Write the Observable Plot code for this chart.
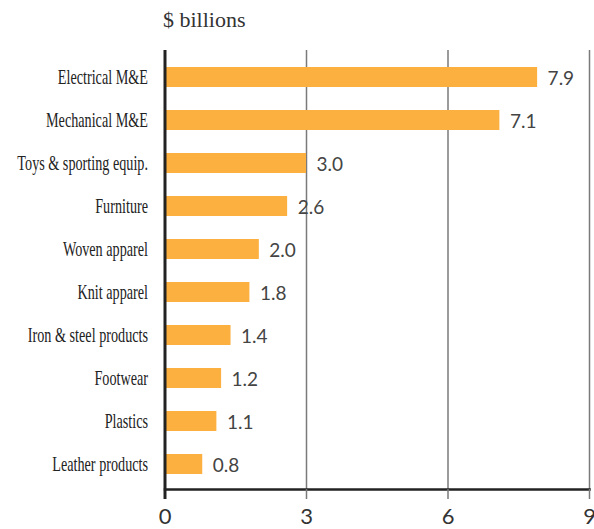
<!DOCTYPE html>
<html>
<head>
<meta charset="utf-8">
<script src="https://cdn.jsdelivr.net/npm/d3@7"></script>
<script src="https://cdn.jsdelivr.net/npm/@observablehq/plot@0.6"></script>
<style>
  html, body { margin: 0; padding: 0; background: #fff; }
  #wrap { position: relative; width: 594px; height: 529px; overflow: hidden; }
  #title { position: absolute; top: 9px; left: 163px; font-family: "Liberation Serif", "Times New Roman", serif; font-size: 22px; line-height: 22px; color: #333; }
  #chart { position: absolute; top: 40px; left: 0; }
  #chart svg { display: block; }
</style>
</head>
<body>
<div id="wrap">
  <div id="title">$ billions</div>
  <div id="chart"></div>
</div>
<script>
const categories = ["Electrical M&E", "Mechanical M&E", "Toys & sporting equip.", "Furniture", "Woven apparel", "Knit apparel", "Iron & steel products", "Footwear", "Plastics", "Leather products"];
const values = [7.9, 7.1, 3.0, 2.6, 2.0, 1.8, 1.4, 1.2, 1.1, 0.8];
const xTicks = [0, 3, 6, 9];
const gridTicks = [3, 6, 9];

const data = categories.map((c, i) => ({category: c, value: values[i]}));
const barColor = "#FBB040";

const chart = Plot.plot({
  width: 594,
  height: 489,
  marginTop: 10,
  marginBottom: 40,
  marginLeft: 164.5,
  marginRight: 5,
  x: {domain: [0, 9]},
  y: {domain: categories, range: [23, 439], paddingInner: 0.533, paddingOuter: 0},
  marks: [
    Plot.ruleX(gridTicks, {stroke: "#7a7a7a", strokeWidth: 1.5}),
    Plot.barX(data, {x: "value", y: "category", fill: barColor}),
    Plot.text(data, {x: "value", y: "category", text: d => d.value.toFixed(1), dx: 10, dy: 1, textAnchor: "start", fill: "#444", fontSize: 19, fontFamily: "Lato"}),
    Plot.ruleX([0], {stroke: "#222", strokeWidth: 3}),
    Plot.frame({anchor: "bottom", stroke: "#222", strokeWidth: 2.5}),
    Plot.axisX({ticks: gridTicks, tickSize: 10, tickPadding: 9, stroke: "#7a7a7a", strokeWidth: 1.5, fill: "#333", fontSize: 22, fontFamily: "Lato", label: null}),
    Plot.axisX({ticks: [0], tickSize: 10, tickPadding: 9, stroke: "#222", strokeWidth: 3, fill: "#333", fontSize: 22, fontFamily: "Lato", label: null}),
    Plot.axisY({tickSize: 0, tickPadding: 17, fill: "#222", fontSize: 20, fontFamily: "Liberation Serif", label: null})
  ]
});
document.getElementById("chart").appendChild(chart);

// condense the serif category labels horizontally
chart.querySelectorAll('g[aria-label="y-axis tick label"] text').forEach(t => {
  const tr = t.getAttribute("transform") || "";
  t.setAttribute("transform", tr + " scale(0.71,1)");
});
</script>
</body>
</html>
